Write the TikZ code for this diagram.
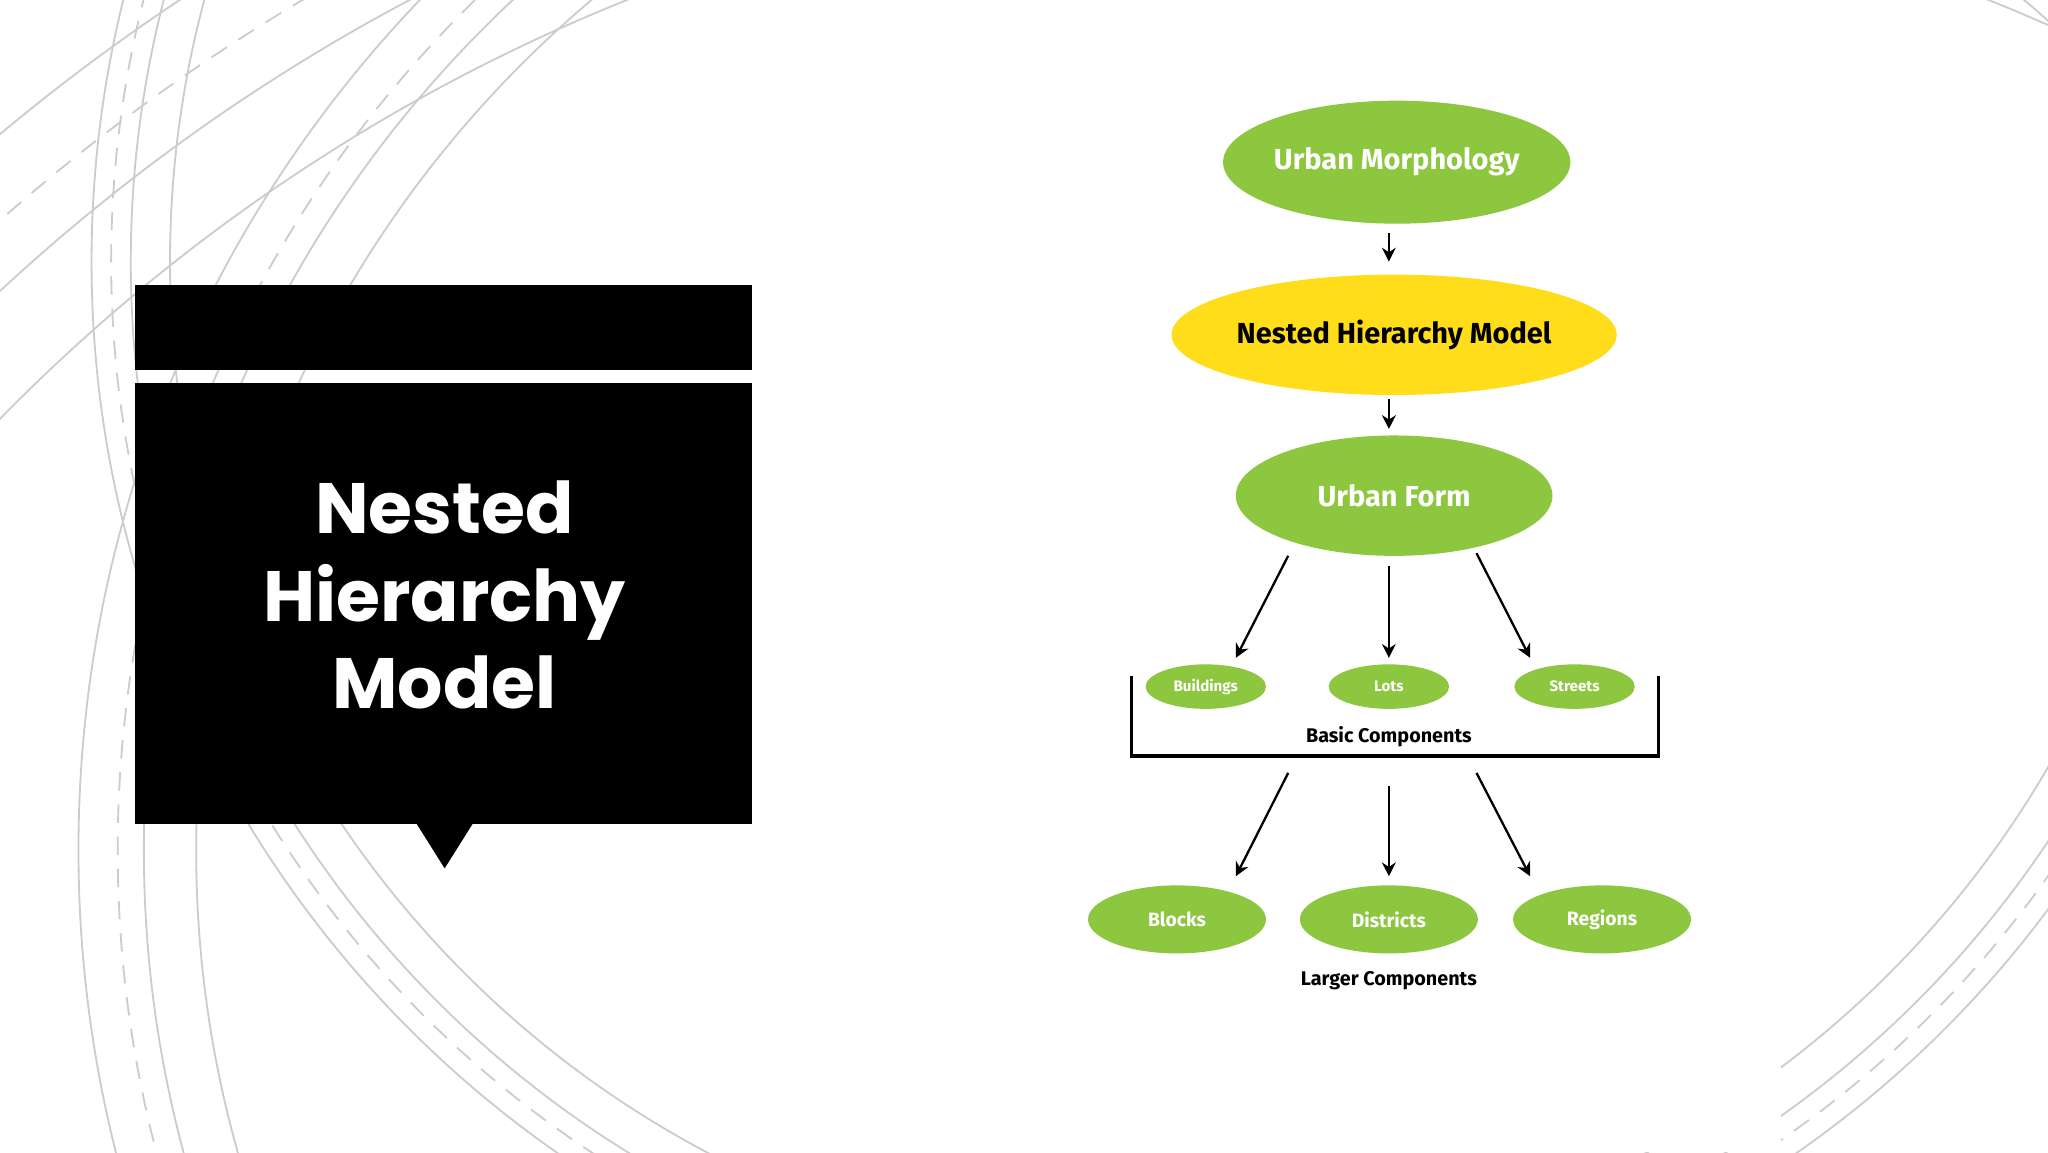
\documentclass[tikz,border=0pt]{standalone}
\usepackage{fontspec}
\setmainfont{Poppins}
\newfontfamily\diag{Fira Sans}
\definecolor{lgreen}{HTML}{8DC63F}
\definecolor{lyellow}{HTML}{FFDD1A}
\usetikzlibrary{shapes.geometric,arrows.meta}
\begin{document}
\begin{tikzpicture}[x=0.01cm,y=-0.01cm,
  ell/.style={ellipse,fill=lgreen,text=white,inner sep=0pt},
  big/.style={ell,font=\diag\bfseries\fontsize{6.3}{7}\selectfont},
  small/.style={ell,font=\diag\bfseries\fontsize{3.3}{4}\selectfont},
  mid/.style={ell,font=\diag\bfseries\fontsize{4.2}{5}\selectfont},
  lbl/.style={font=\diag\bfseries\fontsize{4.3}{5}\selectfont},
  arr/.style={-{Stealth[length=3pt,width=3pt]},line width=0.5pt},
  bg/.style={gray!40,line width=0.4pt},
  bgd/.style={gray!40,line width=0.4pt,dash pattern=on 4pt off 3pt}]
\useasboundingbox (0,0) rectangle (1566,881);
\begin{scope}
\clip (0,0) rectangle (1566,881);
\foreach \r in {1400,1470,1560}{\draw[bg] (1000,1300) circle (\r);}
\draw[bgd] (1000,1300) circle (1510);
\foreach \r in {850,890,940}{\draw[bg] (1000,650) circle (\r);}
\draw[bgd] (1000,650) circle (910);
\foreach \r in {770,800,830}{\draw[bg] (900,200) circle (\r);}
\draw[bgd] (900,200) circle (815);
\fill[white] (665,0) rectangle (1362,881);
\end{scope}
% left box
\fill[black] (103,218) rectangle (575,283);
\fill[black] (103,293) rectangle (575,630);
\fill[black] (318,629) -- (362,629) -- (340,664) -- cycle;
\node[text=white,align=center,font=\fontsize{15.5}{19}\selectfont\bfseries] (title) at (340,455) {Nested\\Hierarchy\\Model};
% diagram
\node[big,minimum width=2.42cm,minimum height=0.94cm] (um) at (1068,124) {Urban Morphology};
\node[big,fill=lyellow,text=black,minimum width=2.58cm,minimum height=0.92cm] (nhm) at (1066,256) {Nested Hierarchy Model};
\node[big,minimum width=2.42cm,minimum height=0.92cm] (uf) at (1066,379) {Urban Form};
\coordinate (a1) at (1062,178); \coordinate (a2) at (1062,200);
\coordinate (b1) at (1062,305); \coordinate (b2) at (1062,328);
\draw[arr] (a1) -- (a2);
\draw[arr] (b1) -- (b2);
\node[small,minimum width=0.92cm,minimum height=0.34cm] (bu) at (922,525) {Buildings};
\node[small,minimum width=0.92cm,minimum height=0.34cm] (lo) at (1062,525) {Lots};
\node[small,minimum width=0.92cm,minimum height=0.34cm] (st) at (1204,525) {Streets};
\coordinate (c1) at (985,425); \coordinate (c2) at (945,503);
\coordinate (d1) at (1062,433); \coordinate (d2) at (1062,503);
\coordinate (e1) at (1129,423); \coordinate (e2) at (1170,503);
\draw[arr] (c1) -- (c2); \draw[arr] (d1) -- (d2); \draw[arr] (e1) -- (e2);
\coordinate (k1) at (865,517); \coordinate (k2) at (865,578);
\coordinate (k3) at (1268,578); \coordinate (k4) at (1268,517);
\draw[line width=0.7pt] (k1) -- (k2) -- (k3) -- (k4);
\node[lbl] (basic) at (1062,563) {Basic Components};
\coordinate (f1) at (985,591); \coordinate (f2) at (945,670);
\coordinate (g1) at (1062,601); \coordinate (g2) at (1062,670);
\coordinate (h1) at (1129,591); \coordinate (h2) at (1170,670);
\draw[arr] (f1) -- (f2); \draw[arr] (g1) -- (g2); \draw[arr] (h1) -- (h2);
\node[mid,minimum width=1.36cm,minimum height=0.52cm] (bl) at (900,703) {Blocks};
\node[mid,minimum width=1.36cm,minimum height=0.52cm] (di) at (1062,703) {Districts};
\node[mid,minimum width=1.36cm,minimum height=0.52cm] (re) at (1225,703) {Regions};
\node[lbl] (larger) at (1062,750) {Larger Components};
\end{tikzpicture}
\end{document}
